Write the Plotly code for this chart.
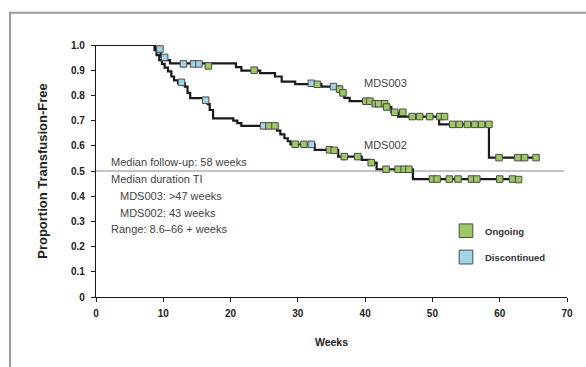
import plotly.graph_objects as go

# ---- Data ----
# Kaplan-Meier step curves (week of step, value after step)
mds003_weeks = [0, 8.8, 9.6, 10.2, 11.0, 20.8, 21.6, 24.4, 26.6, 27.6, 29.6, 33.5, 36.4, 36.9, 37.7, 41.2, 43.1, 43.9, 44.9, 51.0, 58.4, 65.4]
mds003_vals = [1.0, 0.984, 0.955, 0.94, 0.927, 0.912, 0.898, 0.888, 0.875, 0.855, 0.845, 0.835, 0.81, 0.79, 0.777, 0.767, 0.754, 0.733, 0.716, 0.685, 0.553, 0.553]

mds002_weeks = [0, 8.7, 9.0, 9.4, 9.8, 10.2, 10.7, 11.2, 11.6, 12.2, 13.2, 13.6, 14.0, 16.6, 16.9, 17.4, 20.4, 21.0, 21.6, 26.9, 27.4, 28.0, 28.5, 28.9, 32.5, 36.0, 39.5, 40.7, 41.7, 47.1, 62.8]
mds002_vals = [1.0, 0.98, 0.96, 0.94, 0.925, 0.91, 0.895, 0.875, 0.86, 0.848, 0.835, 0.81, 0.789, 0.765, 0.742, 0.709, 0.70, 0.69, 0.679, 0.66, 0.645, 0.63, 0.618, 0.606, 0.584, 0.557, 0.544, 0.533, 0.507, 0.468, 0.468]

# Censored observations: ongoing (green) and discontinued (blue)
mds003_ongoing_weeks = [16.7, 23.5, 32.9, 36.2, 36.7, 40.1, 40.7, 41.5, 42.0, 42.9, 43.2, 44.4, 45.6, 47.0, 48.1, 49.6, 51.1, 51.8, 53.0, 54.0, 55.2, 56.3, 57.3, 58.4, 59.9, 62.7, 63.7, 65.4]
mds003_ongoing_vals = [0.917, 0.90, 0.844, 0.825, 0.81, 0.777, 0.777, 0.767, 0.767, 0.767, 0.754, 0.733, 0.733, 0.716, 0.716, 0.716, 0.716, 0.716, 0.685, 0.685, 0.685, 0.685, 0.685, 0.685, 0.553, 0.553, 0.553, 0.553]
mds003_disc_weeks = [9.5, 10.2, 13.0, 14.5, 15.3, 32.0, 35.3]
mds003_disc_vals = [0.984, 0.951, 0.925, 0.925, 0.925, 0.848, 0.835]

mds002_ongoing_weeks = [25.7, 26.6, 29.6, 30.9, 34.7, 35.4, 36.9, 38.9, 40.9, 43.1, 44.9, 45.8, 46.5, 50.0, 50.7, 52.5, 53.8, 55.8, 56.6, 60.0, 61.9, 62.8]
mds002_ongoing_vals = [0.679, 0.679, 0.606, 0.606, 0.584, 0.582, 0.557, 0.557, 0.533, 0.507, 0.507, 0.507, 0.507, 0.468, 0.468, 0.468, 0.468, 0.468, 0.468, 0.468, 0.468, 0.466]
mds002_disc_weeks = [12.7, 16.3, 24.9, 32.0]
mds002_disc_vals = [0.852, 0.781, 0.679, 0.606]

median_level = 0.5
x_ticks = [0, 10, 20, 30, 40, 50, 60, 70]
y_ticks = [0, 0.1, 0.2, 0.3, 0.4, 0.5, 0.6, 0.7, 0.8, 0.9, 1.0]
y_ticklabels = ["0", "0.1", "0.2", "0.3", "0.4", "0.5", "0.6", "0.7", "0.8", "0.9", "1.0"]

notes = ["Median follow-up: 58 weeks", "Median duration TI", "MDS003: >47 weeks", "MDS002: 43 weeks", "Range: 8.6\u201366 + weeks"]

GREEN = "#9dc965"
BLUE = "#a3d3e6"
FONT = "Arial, Liberation Sans, sans-serif"

fig = go.Figure()

for wk, vl in [(mds003_weeks, mds003_vals), (mds002_weeks, mds002_vals)]:
    fig.add_trace(go.Scatter(x=wk, y=vl, mode="lines", line=dict(color="#1a1a1a", width=2.2, shape="hv"),
                             showlegend=False, hoverinfo="skip", cliponaxis=False))

for wk, vl, col in [(mds003_disc_weeks, mds003_disc_vals, BLUE), (mds003_ongoing_weeks, mds003_ongoing_vals, GREEN),
                    (mds002_disc_weeks, mds002_disc_vals, BLUE), (mds002_ongoing_weeks, mds002_ongoing_vals, GREEN)]:
    fig.add_trace(go.Scatter(x=wk, y=vl, mode="markers",
                             marker=dict(symbol="square", size=6.5, color=col, line=dict(color="#4a4a4a", width=1)),
                             showlegend=False, cliponaxis=False))

# median reference line
fig.add_shape(type="line", xref="x", yref="y", x0=0, x1=69.6, y0=median_level, y1=median_level,
              line=dict(color="#8a8a8a", width=1.2), layer="below")

# border frame
fig.add_shape(type="rect", xref="paper", yref="paper", x0=-0.1826, x1=1.3, y0=-0.6, y1=1.128,
              line=dict(color="#9a9a9a", width=2), layer="below")

ann_pos = [(2.0, 0.536), (2.0, 0.468), (3.3, 0.40), (3.3, 0.333), (2.0, 0.27)]
for txt, (ax, ay) in zip(notes, ann_pos):
    fig.add_annotation(x=ax, y=ay, xref="x", yref="y", text=txt, showarrow=False, xanchor="left", yanchor="middle",
                       font=dict(family=FONT, size=11, color="#444444"))

fig.add_annotation(x=39.6, y=0.849, xref="x", yref="y", text="MDS003", showarrow=False, xanchor="left",
                   yanchor="middle", font=dict(family=FONT, size=11, color="#444444"))
fig.add_annotation(x=39.6, y=0.603, xref="x", yref="y", text="MDS002", showarrow=False, xanchor="left",
                   yanchor="middle", font=dict(family=FONT, size=11, color="#444444"))

# legend (drawn)
for (y0, y1, col, lab, ty) in [(0.236, 0.290, GREEN, "Ongoing", 0.259), (0.131, 0.186, BLUE, "Discontinued", 0.156)]:
    fig.add_shape(type="rect", xref="paper", yref="paper", x0=0.771, x1=0.800, y0=y0, y1=y1,
                  fillcolor=col, line=dict(color="#4a4a4a", width=1))
    fig.add_annotation(x=0.822, y=ty, xref="paper", yref="paper", text="<b>" + lab + "</b>", showarrow=False,
                       xanchor="left", yanchor="middle", font=dict(family=FONT, size=9.5, color="#333333"))

fig.update_layout(
    width=586, height=367,
    margin=dict(l=96, r=19, t=45, b=70),
    plot_bgcolor="white", paper_bgcolor="white",
    font=dict(family=FONT, color="#222222"),
    xaxis=dict(range=[0, 70], tickvals=x_ticks, ticktext=["<b>%d</b>" % v for v in x_ticks],
               showgrid=False, zeroline=False, showline=True, linecolor="#1a1a1a", linewidth=1.3,
               ticks="outside", ticklen=4, tickcolor="#1a1a1a", ticklabelstandoff=3,
               tickfont=dict(family=FONT, size=10, color="#222"),
               title=dict(text="<b>Weeks</b>", font=dict(family=FONT, size=10.5, color="#222"), standoff=20)),
    yaxis=dict(range=[0, 1.0], tickvals=y_ticks, ticktext=["<b>%s</b>" % t for t in y_ticklabels],
               showgrid=False, zeroline=False, showline=True, linecolor="#1a1a1a", linewidth=1.3,
               ticks="outside", ticklen=4, tickcolor="#1a1a1a", ticklabelstandoff=4,
               tickfont=dict(family=FONT, size=10, color="#222"),
               title=dict(text="<b>Proportion Transfusion-Free</b>", font=dict(family=FONT, size=13, color="#222"),
                          standoff=20)),
)

fig.write_html("out.html", config={"displayModeBar": False},
               post_script="document.body.style.margin='0';document.body.style.overflow='hidden';")
